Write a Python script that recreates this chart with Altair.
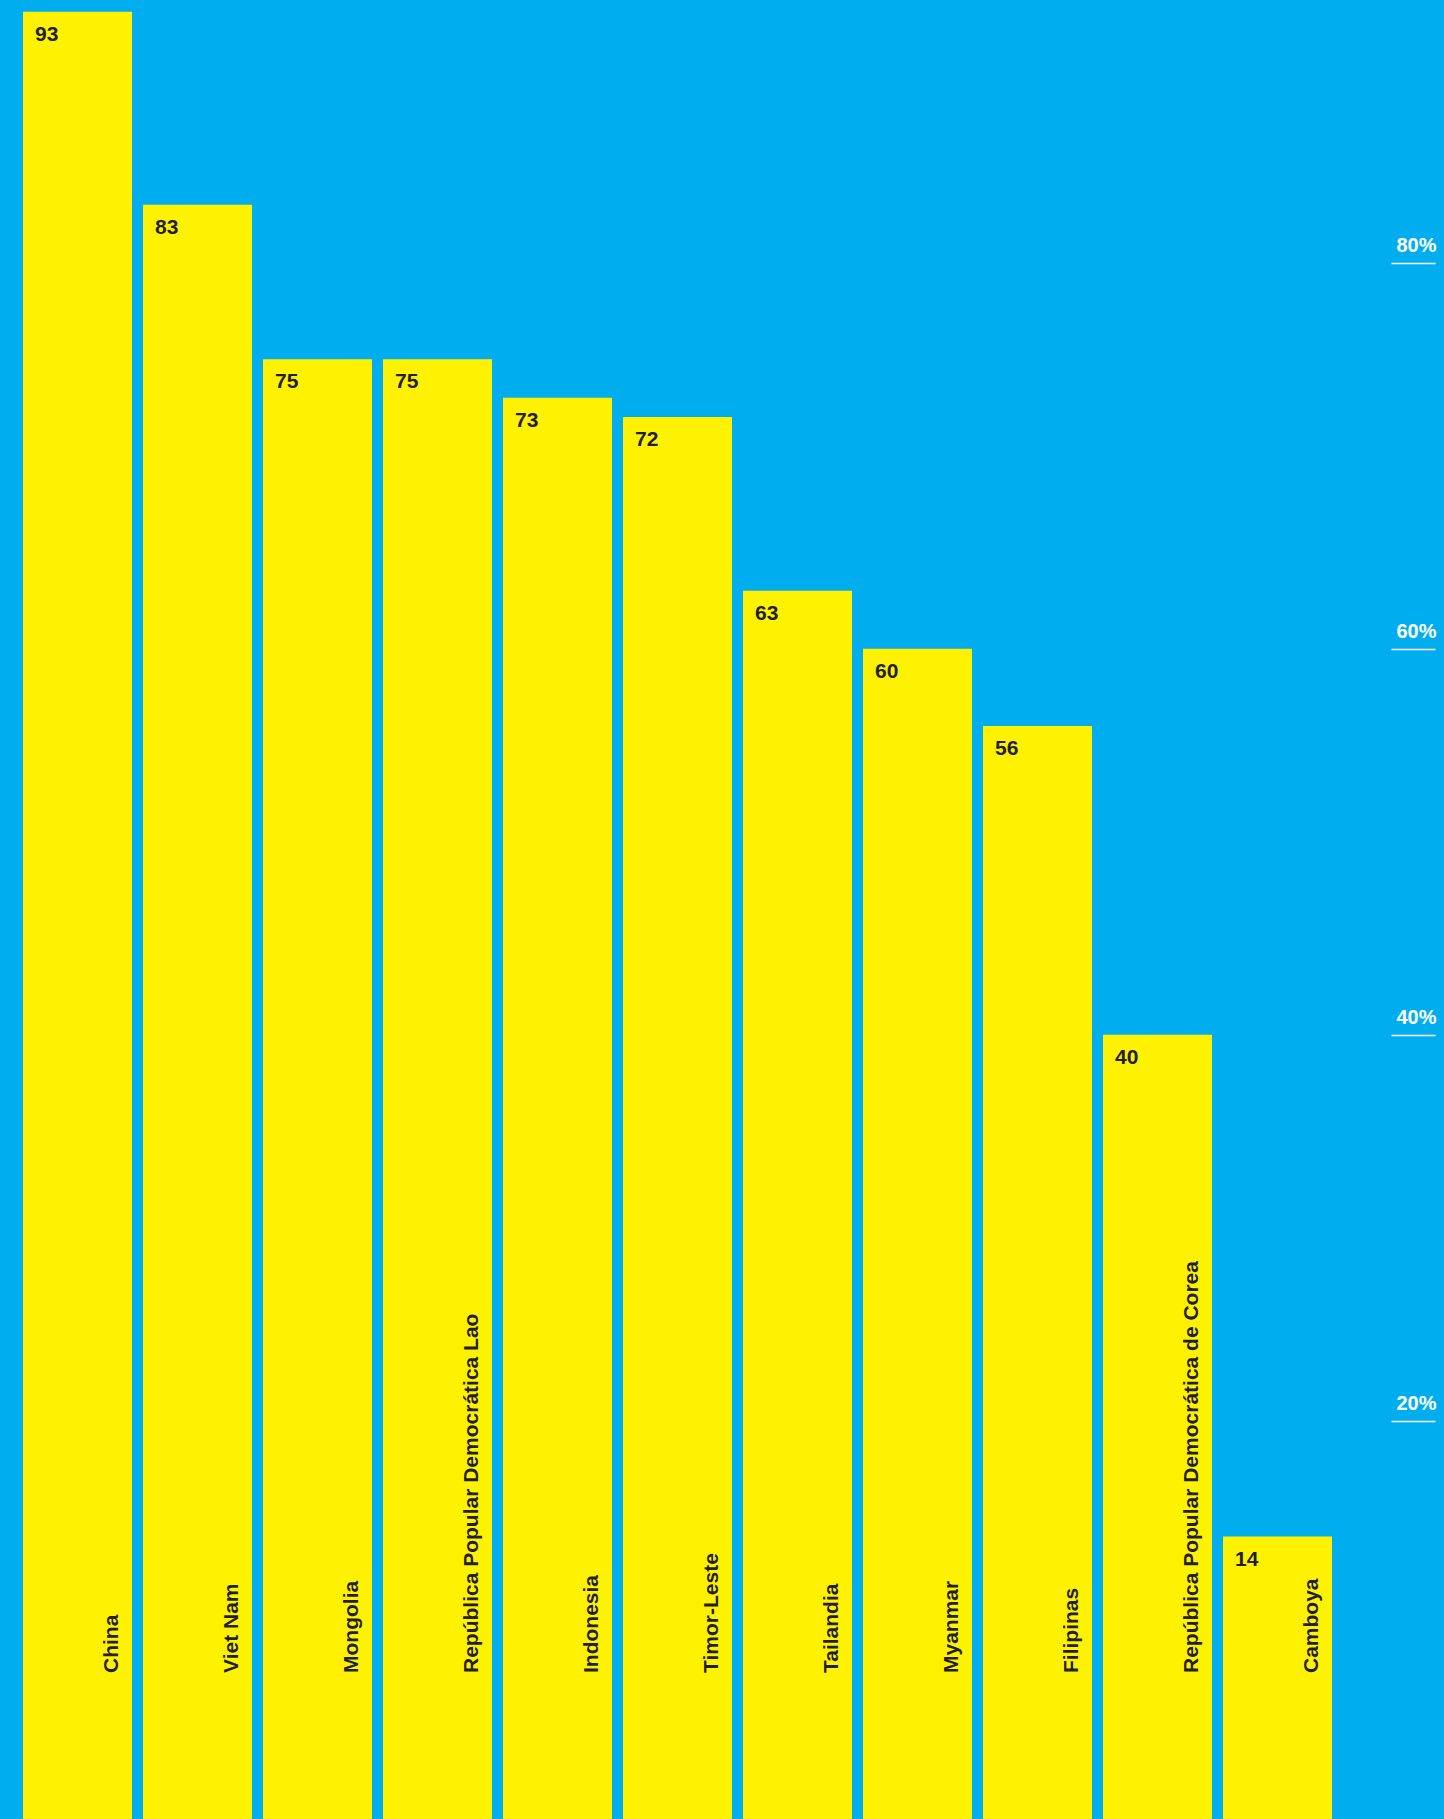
import altair as alt
import pandas as pd

# Share of population (%) by country
countries = [
    "China", "Viet Nam", "Mongolia", "República Popular Democrática Lao",
    "Indonesia", "Timor-Leste", "Tailandia", "Myanmar", "Filipinas",
    "República Popular Democrática de Corea", "Camboya",
]
values = [93, 83, 75, 75, 73, 72, 63, 60, 56, 40, 14]
tick_values = [20, 40, 60, 80]

BLUE = "#00AEEF"
YELLOW = "#FFF200"
INK = "#231F20"
W, H = 1444, 1819
Y_MIN, Y_MAX = -0.637, 93.61

df = pd.DataFrame({"country": countries, "value": values})

x_scale = alt.Scale(range=[23, 1332], paddingInner=11 / 120, paddingOuter=0)
y_scale = alt.Scale(domain=[Y_MIN, Y_MAX], nice=False, zero=False)

x_enc = alt.X("country:N", sort=None, scale=x_scale, axis=None)

# bars run from the bottom edge of the view up to each value
bars = alt.Chart(df).mark_bar(color=YELLOW).encode(
    x=x_enc,
    y=alt.Y(
        "value:Q",
        scale=y_scale,
        axis=alt.Axis(
            orient="right",
            offset=-53,
            values=tick_values,
            domain=False,
            grid=False,
            ticks=True,
            tickSize=44,
            tickWidth=1.5,
            tickColor="white",
            labelColor="white",
            labelFont="Liberation Sans",
            labelFontWeight="bold",
            labelFontSize=20,
            labelAlign="right",
            labelBaseline="alphabetic",
            labelPadding=1,
            labelOffset=-11,
            labelExpr="datum.value + '%'",
            title=None,
        ),
    ),
    y2=alt.datum(Y_MIN),
)

value_labels = alt.Chart(df).mark_text(
    align="left", baseline="alphabetic", dx=12, dy=29,
    font="Liberation Sans", fontWeight="bold", fontSize=21, color=INK,
).encode(
    x=alt.X("country:N", sort=None, scale=x_scale, axis=None, bandPosition=0),
    y=alt.Y("value:Q", scale=y_scale),
    text=alt.Text("value:Q"),
)

name_labels = alt.Chart(df).mark_text(
    align="left", baseline="alphabetic", angle=270,
    font="Liberation Sans", fontWeight="bold", fontSize=21, color=INK,
).encode(
    x=alt.X("country:N", sort=None, scale=x_scale, axis=None, bandPosition=0.872),
    y=alt.value(1673),
    text="country:N",
)

chart = (
    alt.layer(bars, value_labels, name_labels)
    .properties(width=W, height=H, padding=0, autosize=alt.AutoSizeParams(type="none"))
    .configure(background=BLUE)
    .configure_view(stroke=None)
)

chart.save("out.html", embed_options={"renderer": "svg", "actions": False})
